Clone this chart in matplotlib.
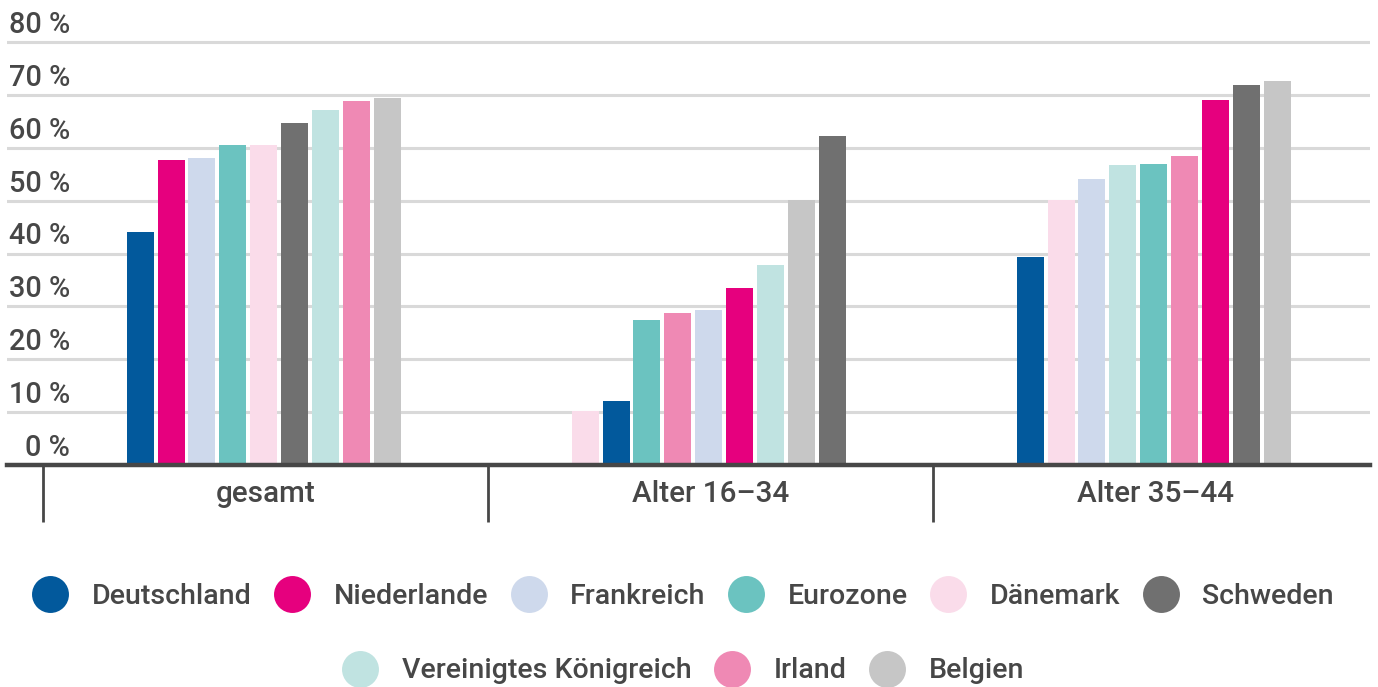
import numpy as np
import matplotlib
matplotlib.use("Agg")
import matplotlib.pyplot as plt
from matplotlib.lines import Line2D

plt.rcParams['font.family'] = ['Roboto', 'DejaVu Sans']
plt.rcParams['font.weight'] = 'medium'

countries = ["Deutschland", "Niederlande", "Frankreich", "Eurozone", "Dänemark",
             "Schweden", "Vereinigtes Königreich", "Irland", "Belgien"]
colors = ["#02599C", "#E6007E", "#CED9EC", "#6BC3C0", "#FADCEA",
          "#707070", "#C0E3E1", "#EF89B4", "#C6C6C6"]
groups = ["gesamt", "Alter 16–34", "Alter 35–44"]

val_gesamt = [44.1, 57.7, 58.1, 60.6, 60.6, 64.7, 67.2, 68.9, 69.5]
val_16_34 = [12.1, 33.5, 29.3, 27.4, 10.2, 62.3, 37.8, 28.7, 50.2]
val_35_44 = [39.4, 69.1, 54.1, 57.0, 50.1, 71.8, 56.8, 58.5, 72.7]
values = [val_gesamt, val_16_34, val_35_44]

yticks = [0, 10, 20, 30, 40, 50, 60, 70, 80]
ytick_labels = ["0 %", "10 %", "20 %", "30 %", "40 %", "50 %", "60 %", "70 %", "80 %"]

W, H = 1378, 687
fig = plt.figure(figsize=(W / 100, H / 100), dpi=100)
ax_left, ax_right = 7, 1370
ax_bottom = 465
px_per_unit = 423 / 80
ytop = 80.4
ax_h = ytop * px_per_unit
ax = fig.add_axes([ax_left / W, (H - ax_bottom) / H, (ax_right - ax_left) / W, ax_h / H])

txt = "#474747"
pitch = 0.0694
bw = 0.0607
for gi, vals in enumerate(values):
    order = np.argsort(np.array(vals), kind="stable")
    for rank, ci in enumerate(order):
        x = gi - 0.004 + (rank - 4) * pitch
        ax.bar(x, vals[ci], width=bw, color=colors[ci], zorder=2)

cat_px = 445
x0 = -0.5 - (43 - ax_left) / cat_px
x1 = x0 + (ax_right - ax_left) / cat_px
ax.set_xlim(x0, x1)
ax.set_ylim(0, ytop)

ax.set_yticks(yticks)
ax.set_yticklabels([])
ax.tick_params(axis='y', length=0)
ax.grid(axis='y', color="#D9D9D9", linewidth=2.2, zorder=0)
ax.set_axisbelow(True)

for s in ["top", "right", "left"]:
    ax.spines[s].set_visible(False)
ax.spines["bottom"].set_color(txt)
ax.spines["bottom"].set_linewidth(3.2)
ax.spines["bottom"].set_zorder(3)

ax.set_xticks(range(len(groups)))
ax.set_xticklabels(groups, fontsize=21.3, color=txt, fontweight='medium')
ax.tick_params(axis='x', which='major', length=0, pad=11)
ax.set_xticks([-0.5, 0.5, 1.5], minor=True)
ax.tick_params(axis='x', which='minor', length=41, width=2, color=txt, direction='out')

lab_x = (70 - ax_left) / (ax_right - ax_left)
for v, lab in zip(yticks, ytick_labels):
    ax.annotate(lab, xy=(lab_x, v), xycoords=ax.get_yaxis_transform(),
                xytext=(0, 6.5), textcoords="offset points",
                ha="right", va="baseline", fontsize=20.8, color=txt, fontweight='medium')

def handles(idx):
    return [Line2D([], [], marker='o', linestyle='', markersize=26.6,
                   markerfacecolor=colors[i], markeredgewidth=0) for i in idx]

row1 = [0, 1, 2, 3, 4, 5]
row2 = [6, 7, 8]
fs_leg = 20.5
common = dict(loc="center", frameon=False, handlelength=37 / (fs_leg * 100 / 72),
              handletextpad=23 / (fs_leg * 100 / 72), columnspacing=22 / (fs_leg * 100 / 72),
              labelcolor=txt, borderpad=0,
              prop={'size': fs_leg, 'weight': 'medium'})
fig.legend(handles(row1), [countries[i] for i in row1], ncol=6,
           bbox_to_anchor=(0.4956, (H - 596) / H), **common)
fig.legend(handles(row2), [countries[i] for i in row2], ncol=3,
           bbox_to_anchor=(0.4956, (H - 671) / H), **common)

fig.savefig("out.png", dpi=100)
